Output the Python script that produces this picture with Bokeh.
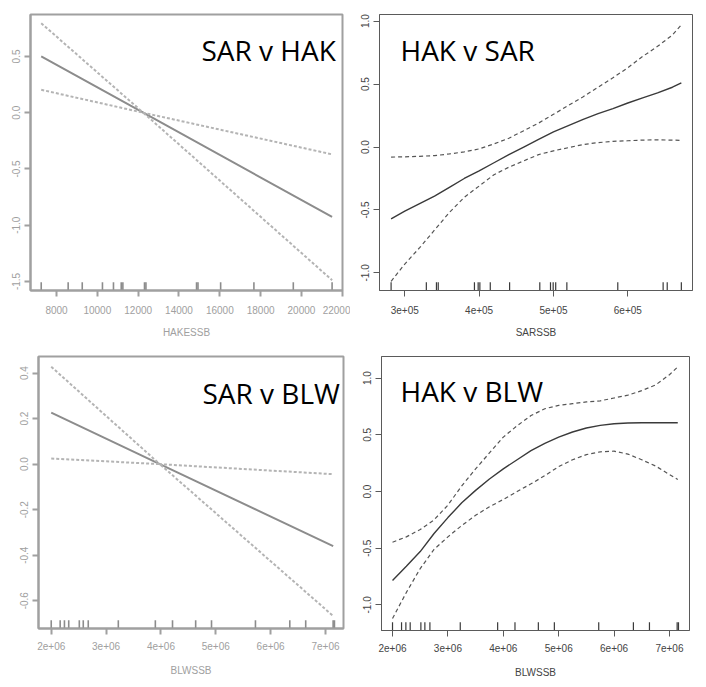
from bokeh.plotting import figure
from bokeh.layouts import column, row
from bokeh.models import FixedTicker, Range1d, Label, ColumnDataSource
from bokeh.embed import file_html
from bokeh.resources import INLINE

# ---------------- data ----------------
# Panel 1: SAR v HAK (linear term)
hak_x = [7250, 12250, 21500]
hak_fit = [0.50, 0.0, -0.926]
hak_upper = [0.796, 0.0, -0.37]
hak_lower = [0.204, 0.0, -1.488]
hak_rug = [7250, 8570, 9260, 10250, 10790, 11170, 11250, 12310, 12380,
           14860, 14930, 16040, 17670, 19600, 21500]
hak_xticks = [8000, 10000, 12000, 14000, 16000, 18000, 20000, 22000]
hak_xlabels = ["8000", "10000", "12000", "14000", "16000", "18000", "20000", "22000"]
p1_yticks = [-1.5, -1.0, -0.5, 0.0, 0.5]
p1_ylabels = ["-1.5", "-1.0", "-0.5", "0.0", "0.5"]

# Panel 2: HAK v SAR (smooth term)
sar_x = [281600, 300000, 320000, 340000, 360000, 380000, 400000, 420000, 440000,
         460000, 480000, 500000, 520000, 540000, 560000, 580000, 600000, 620000,
         640000, 660000, 672000]
sar_fit = [-0.57, -0.51, -0.45, -0.39, -0.32, -0.25, -0.19, -0.125, -0.06,
           0.0, 0.06, 0.12, 0.17, 0.22, 0.265, 0.305, 0.35, 0.39, 0.43, 0.475, 0.51]
sar_upper = [-0.08, -0.078, -0.074, -0.068, -0.055, -0.038, -0.015, 0.025, 0.07,
             0.13, 0.19, 0.26, 0.33, 0.40, 0.475, 0.55, 0.63, 0.72, 0.80, 0.89, 0.97]
sar_lower = [-1.067, -0.93, -0.80, -0.66, -0.52, -0.40, -0.31, -0.22, -0.16,
             -0.11, -0.06, -0.03, -0.005, 0.02, 0.035, 0.045, 0.05, 0.055, 0.057, 0.055, 0.053]
sar_rug = [281600, 329000, 342600, 345000, 393700, 398700, 401000, 415000, 441000,
           481600, 496000, 499600, 503000, 518000, 586500, 647500, 653000, 672000]
sar_xticks = [300000, 400000, 500000, 600000]
sar_xlabels = ["3e+05", "4e+05", "5e+05", "6e+05"]
p2_yticks = [-1.0, -0.5, 0.0, 0.5, 1.0]
p2_ylabels = ["-1.0", "-0.5", "0.0", "0.5", "1.0"]

# Panel 3: SAR v BLW (linear term)
blw_lin_x = [2000000, 3980000, 7140000]
blw_lin_fit = [0.226, 0.0, -0.36]
blw_lin_upper = [0.428, 0.0, -0.044]
blw_lin_lower = [0.025, 0.0, -0.667]
p3_yticks = [-0.6, -0.4, -0.2, 0.0, 0.2, 0.4]
p3_ylabels = ["-0.6", "-0.4", "-0.2", "0.0", "0.2", "0.4"]

# Panel 4: HAK v BLW (smooth term)
blw_x = [2000000, 2250000, 2500000, 2750000, 3000000, 3250000, 3500000, 3750000,
         4000000, 4250000, 4500000, 4750000, 5000000, 5250000, 5500000, 5750000,
         6000000, 6250000, 6500000, 6750000, 7000000, 7150000]
blw_fit = [-0.785, -0.66, -0.53, -0.37, -0.23, -0.10, 0.01, 0.11, 0.20, 0.28, 0.36,
           0.425, 0.48, 0.525, 0.56, 0.583, 0.598, 0.604, 0.606, 0.606, 0.606, 0.606]
blw_upper = [-0.447, -0.40, -0.335, -0.25, -0.12, 0.05, 0.20, 0.34, 0.48, 0.58, 0.67,
             0.73, 0.76, 0.775, 0.79, 0.80, 0.825, 0.85, 0.89, 0.94, 1.03, 1.10]
blw_lower = [-1.12, -0.89, -0.68, -0.51, -0.40, -0.30, -0.21, -0.135, -0.07, 0.0, 0.068,
             0.14, 0.22, 0.28, 0.325, 0.35, 0.356, 0.33, 0.28, 0.225, 0.15, 0.106]
blw_rug = [2000000, 2163000, 2241000, 2319000, 2512000, 2584000, 2675000, 3223000,
           3898000, 4211000, 4633000, 4922000, 5723000, 6349000, 6639000, 7139000, 7163000]
blw_xticks = [2000000, 3000000, 4000000, 5000000, 6000000, 7000000]
blw_xlabels = ["2e+06", "3e+06", "4e+06", "5e+06", "6e+06", "7e+06"]
p4_yticks = [-1.0, -0.5, 0.0, 0.5, 1.0]
p4_ylabels = ["-1.0", "-0.5", "0.0", "0.5", "1.0"]

titles = ["SAR v HAK", "HAK v SAR", "SAR v BLW", "HAK v BLW"]
xlabels = ["HAKESSB", "SARSSB", "BLWSSB", "BLWSSB"]


def panel(x, fit, up, lo, rug, xr, yr, xt, xl, yt, yl, xlabel, title,
          fw, fh, bl, br, bt, bb, tx, ty, faded, lab_off, axlab_off):
    p = figure(frame_width=fw, frame_height=fh, min_border_left=bl, min_border_right=br,
               min_border_top=bt, min_border_bottom=bb,
               x_range=Range1d(*xr), y_range=Range1d(*yr),
               output_backend="svg", toolbar_location=None, tools="")
    if faded:
        frame_c, solid_c, dash_c, text_c = "#a0a0a0", "#8c8c8c", "#b4b4b4", "#a0a0a0"
        lw_s, lw_d, dash, ow = 2.0, 2.0, "3 2", 2
    else:
        frame_c, solid_c, dash_c, text_c = "#5a5a5a", "#3a3a3a", "#555555", "#444444"
        lw_s, lw_d, dash, ow = 1.4, 1.2, "4 3", 1
    p.background_fill_color = "white"
    p.border_fill_color = "white"
    p.outline_line_color = frame_c
    p.outline_line_width = ow
    p.grid.visible = False

    src = ColumnDataSource(dict(x=x, fit=fit, up=up, lo=lo))
    p.line("x", "fit", source=src, line_color=solid_c, line_width=lw_s)
    p.line("x", "up", source=src, line_color=dash_c, line_width=lw_d, line_dash=dash)
    p.line("x", "lo", source=src, line_color=dash_c, line_width=lw_d, line_dash=dash)

    rug_len = 0.03 * (yr[1] - yr[0])
    p.segment(x0=rug, x1=rug, y0=[yr[0]] * len(rug), y1=[yr[0] + rug_len] * len(rug),
              line_color=solid_c, line_width=1.2 if not faded else 1.6)

    for ax in (p.xaxis[0], p.yaxis[0]):
        ax.axis_line_color = frame_c
        ax.axis_line_width = ow
        ax.major_tick_line_color = frame_c
        ax.major_tick_line_width = ow
        ax.major_tick_in = 0
        ax.major_tick_out = 6
        ax.minor_tick_line_color = None
        ax.major_label_text_font = "Liberation Sans"
        ax.major_label_text_font_size = "10px"
        ax.major_label_text_color = text_c
        ax.axis_label_text_font = "Liberation Sans"
        ax.axis_label_text_font_size = "10px"
        ax.axis_label_text_font_style = "normal"
        ax.axis_label_text_color = text_c
    p.xaxis.ticker = FixedTicker(ticks=xt)
    p.xaxis.major_label_overrides = {t: s for t, s in zip(xt, xl)}
    p.xaxis.axis_label = xlabel
    p.xaxis.major_label_standoff = lab_off
    p.xaxis.axis_label_standoff = axlab_off
    p.yaxis.ticker = FixedTicker(ticks=yt)
    p.yaxis.major_label_overrides = {t: s for t, s in zip(yt, yl)}
    p.yaxis.major_label_orientation = "vertical"
    p.yaxis.major_label_standoff = 4

    p.add_layout(Label(x=tx, y=ty, x_units="screen", y_units="screen", text=title,
                       text_font="Open Sans", text_font_size="28px", text_color="black",
                       text_baseline="alphabetic", text_align="left"))
    return p


p1 = panel(hak_x, hak_fit, hak_upper, hak_lower, hak_rug, (6725, 22010), (-1.58, 0.873),
           hak_xticks, hak_xlabels, p1_yticks, p1_ylabels, xlabels[0], titles[0],
           312, 276, 30, 8, 14, 52, 171, 241, True, 9, 10)
p2 = panel(sar_x, sar_fit, sar_upper, sar_lower, sar_rug, (266000, 687000), (-1.14, 1.053),
           sar_xticks, sar_xlabels, p2_yticks, p2_ylabels, xlabels[1], titles[1],
           313, 276, 29, 14, 14, 52, 21, 241, False, 9, 10)
p3 = panel(blw_lin_x, blw_lin_fit, blw_lin_upper, blw_lin_lower, blw_rug, (1768000, 7328000),
           (-0.722, 0.473), blw_xticks, blw_xlabels, p3_yticks, p3_ylabels, xlabels[2], titles[2],
           305, 272, 38, 7, 14, 61, 164, 236, True, 7, 12)
p4 = panel(blw_x, blw_fit, blw_upper, blw_lower, blw_rug, (1801000, 7362000), (-1.226, 1.191),
           blw_xticks, blw_xlabels, p4_yticks, p4_ylabels, xlabels[3], titles[3],
           308, 274, 31, 17, 14, 59, 19, 240, False, 7, 12)

layout = column(row(p1, p2), row(p3, p4))
open("out.html", "w").write(file_html(layout, INLINE))
